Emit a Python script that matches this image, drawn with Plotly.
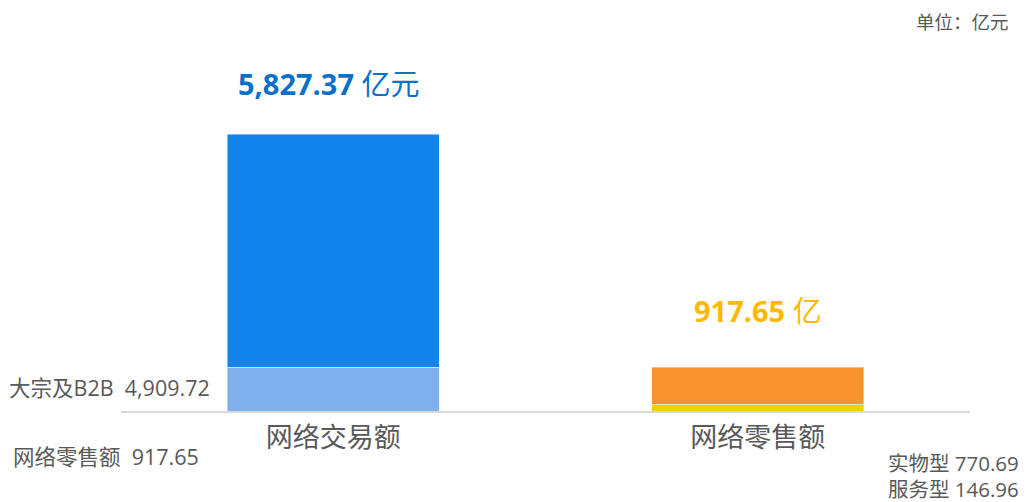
import plotly.graph_objects as go

categories = ["网络交易额", "网络零售额"]
# segments of bar 1
b2b = [4909.72, None]
retail_total = [917.65, None]
# segments of bar 2
service = [None, 146.96]
physical = [None, 770.69]
totals = [5827.37, 917.65]
total_units = ["亿元", "亿"]

FONT = "Open Sans, Noto Sans CJK SC, sans-serif"
GRAY = "#595959"

# plot area in screen pixels (page body has an 8px offset)
PL, PR, PT, PB = 121, 970, 40, 411


def px(x):
    return (x - PL) / (PR - PL)


def py(y):
    return (PB - y) / (PB - PT)


fig = go.Figure()
fig.add_bar(x=categories, y=retail_total, marker_color="#7FB0EE", width=0.5, name="网络零售额")
fig.add_bar(x=categories, y=b2b, marker_color="#1284EC", width=0.5, name="大宗及B2B")
fig.add_bar(x=categories, y=service, marker_color="#F8D000", width=0.5, name="服务型")
fig.add_bar(x=categories, y=physical, marker_color="#F7922F", width=0.5, name="实物型")

total_colors = ["#0A70C8", "#FFBA00"]
total_xshift = [-4, 0]
total_yshift = [51, 57]
for i, (c, t) in enumerate(zip(categories, totals)):
    fig.add_annotation(x=c, y=t, yref="y", xref="x",
                       text=f"<b>{t:,.2f}</b> {total_units[i]}",
                       showarrow=False, yanchor="middle", yshift=total_yshift[i],
                       xshift=total_xshift[i],
                       font=dict(family=FONT, size=29, color=total_colors[i]))

side = [
    (f"大宗及B2B  {b2b[0]:,.2f}", 7, 387, "left", 21.5),
    (f"网络零售额  {retail_total[0]:,.2f}", 11, 456, "left", 21.5),
    (f"实物型 {physical[1]:,.2f}", 1021, 463, "right", 20.5),
    (f"服务型 {service[1]:,.2f}", 1021, 489, "right", 20.5),
]
for txt, sx, sy, anc, fs in side:
    fig.add_annotation(x=px(sx), y=py(sy), xref="paper", yref="paper",
                       text=txt, showarrow=False, xanchor=anc, yanchor="middle",
                       font=dict(family=FONT, size=fs, color=GRAY))

fig.add_annotation(x=px(1011), y=py(21), xref="paper", yref="paper",
                   text="单位：亿元", showarrow=False, xanchor="right", yanchor="middle",
                   font=dict(family=FONT, size=18.5, color=GRAY))

fig.update_layout(
    barmode="stack",
    width=1033, height=502,
    margin=dict(l=PL - 8, r=1033 - PR + 8, t=PT - 8, b=502 - PB + 8),
    paper_bgcolor="white", plot_bgcolor="white",
    showlegend=False,
    xaxis=dict(showline=True, linecolor="#D9D9D9", linewidth=1.5, ticks="",
               tickfont=dict(family=FONT, size=27, color=GRAY),
               ticklabelstandoff=2, range=[-0.5, 1.5]),
    yaxis=dict(visible=False, range=[0, 7805]),
)

fig.write_html("out.html")
